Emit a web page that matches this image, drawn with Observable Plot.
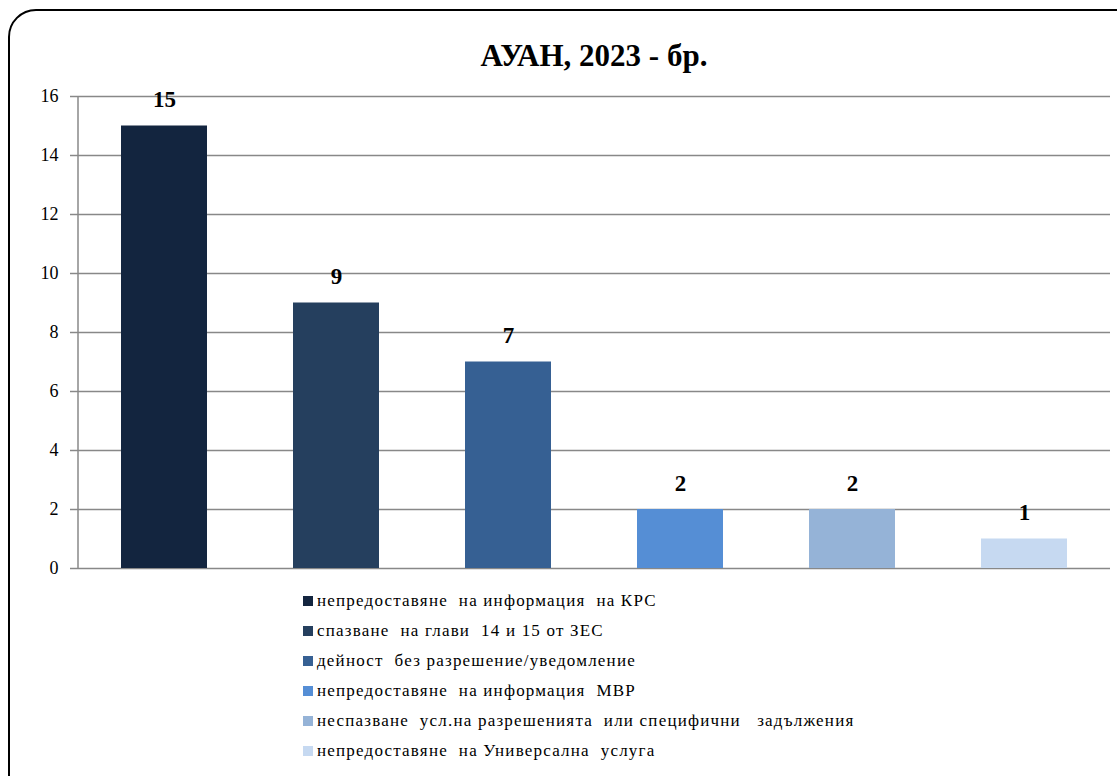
<!DOCTYPE html>
<html>
<head>
<meta charset="utf-8">
<script src="https://cdn.jsdelivr.net/npm/d3@7"></script>
<script src="https://cdn.jsdelivr.net/npm/@observablehq/plot@0.6"></script>
<style>
  html, body { margin: 0; padding: 0; background: #fff; overflow: hidden; width: 1117px; height: 776px; }
  body { position: relative; font-family: 'Liberation Serif', 'Times New Roman', serif; }
  #frame { position: absolute; left: 8px; top: 9px; width: 1140px; height: 800px; border: 2px solid #000; border-radius: 28px; box-sizing: border-box; }
  #title { position: absolute; left: 0; width: 1188px; top: 38px; text-align: center; font-weight: bold; font-size: 31px; color: #000; }
  #chart { position: absolute; left: 0; top: 0; }
  #legend { position: absolute; left: 303px; top: 586px; font-size: 17px; letter-spacing: 1.2px; color: #000; }
  .item { height: 30px; line-height: 22px; white-space: pre; display: flex; align-items: center; }
  .sw { width: 10px; height: 10px; margin-right: 4px; flex: none; }
</style>
</head>
<body>
<div id="frame"></div>
<div id="title">АУАН, 2023 - бр.</div>
<div id="chart"></div>
<div id="legend"></div>
<script>
const categories = [
  "непредоставяне  на информация  на КРС",
  "спазване  на глави  14 и 15 от ЗЕС",
  "дейност  без разрешение/уведомление",
  "непредоставяне  на информация  МВР",
  "неспазване  усл.на разрешенията  или специфични   задължения",
  "непредоставяне  на Универсална  услуга"
];
const values = [15, 9, 7, 2, 2, 1];
const colors = ["#13253F", "#253F5E", "#366093", "#558ED5", "#95B3D7", "#C6D9F1"];
const yTicks = [0, 2, 4, 6, 8, 10, 12, 14, 16];

const data = categories.map((c, i) => ({category: c, value: values[i]}));

const W = 1117, H = 590, ML = 78, MR = 7, MT = 96, MB = 22;

const chart = Plot.plot({
  width: W,
  height: H,
  marginLeft: ML,
  marginRight: MR,
  marginTop: MT,
  marginBottom: MB,
  style: {fontFamily: "'Liberation Serif', 'Times New Roman', serif", background: "transparent", overflow: "visible"},
  x: {domain: categories, paddingInner: 0.5, paddingOuter: 0.25, axis: null},
  y: {domain: [0, 16], ticks: yTicks, label: null},
  color: {domain: categories, range: colors},
  marks: [
    Plot.gridY(yTicks, {stroke: "#888", strokeOpacity: 1, strokeWidth: 1.5}),
    Plot.axisY({ticks: yTicks, tickSize: 8, stroke: "#888", strokeOpacity: 1, strokeWidth: 1.5, tickPadding: 12, fontSize: 18, fill: "#000", label: null}),
    Plot.barY(data, {x: "category", y: "value", fill: "category"}),
    Plot.text(data, {x: "category", y: "value", text: d => String(d.value), dy: -26, fontSize: 23, fontWeight: "bold", fill: "#000"})
  ]
});

// vertical axis line at the left edge of the plot frame
d3.select(chart).append("line")
  .attr("x1", ML).attr("x2", ML)
  .attr("y1", MT).attr("y2", H - MB)
  .attr("stroke", "#888").attr("stroke-width", 1.5);

document.getElementById("chart").appendChild(chart);

const legend = document.getElementById("legend");
categories.forEach((c, i) => {
  const row = document.createElement("div");
  row.className = "item";
  const sw = document.createElement("span");
  sw.className = "sw";
  sw.style.background = colors[i];
  const t = document.createElement("span");
  t.textContent = c;
  row.appendChild(sw);
  row.appendChild(t);
  legend.appendChild(row);
});
</script>
</body>
</html>
